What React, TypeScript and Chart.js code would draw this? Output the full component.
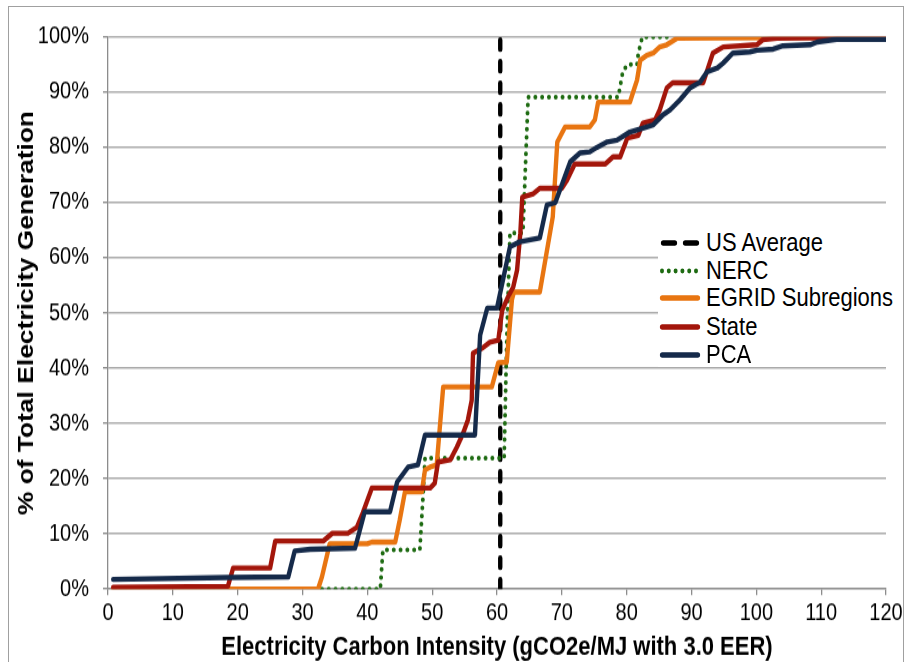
import React, { useEffect, useRef } from "react";
import { Chart, registerables } from "chart.js";

Chart.register(...registerables);

// ---------------- data ----------------
const xTickStep = 10;
const xMin = 0;
const xMax = 120;
const yTickStep = 10;

const seriesNames = ["US Average", "NERC", "EGRID Subregions", "State", "PCA"];

const usAvgX = [60.5, 60.5];
const usAvgY = [0, 100];

const nercX = [33, 42.0, 42.4, 48.1, 48.6, 48.9, 61.1, 61.5, 62.0, 64.0, 64.4, 64.8, 78.7, 79.4, 80.1, 81.6, 81.8, 82.4, 87.2];
const nercY = [0, 0, 7.1, 7.1, 17, 23.7, 23.7, 45, 64.5, 64.5, 77, 89.1, 89.1, 93.7, 95, 95, 97.1, 100, 100];

const egridX = [0.8, 32.4, 33.0, 34.2, 40.0, 40.7, 44.3, 45.0, 45.8, 48.4, 48.9, 49.7, 50.7, 51.7, 59.2, 60.2, 61.5, 62.3, 62.6, 66.6, 68.6, 69.3, 70.5, 74.3, 75.1, 75.6, 80.5, 81.6, 82.1, 83.1, 84.1, 85.1, 86.2, 87.8, 120];
const egridY = [0, 0, 2.2, 8.2, 8.2, 8.5, 8.5, 12.5, 17.6, 17.6, 21.6, 22.1, 22.5, 36.6, 36.6, 41, 41.1, 52.4, 53.8, 53.8, 67.4, 81, 83.7, 83.7, 85, 88.2, 88.2, 92.2, 95.8, 96.7, 97.1, 98.2, 98.6, 99.8, 100];

const stateX = [0.8, 18.5, 19.3, 25, 25.8, 33.2, 34.6, 37.0, 38.4, 39.3, 40.7, 49.7, 50.4, 50.9, 52.8, 53.8, 54.8, 55.5, 56.1, 56.3, 57.8, 58.9, 60.2, 60.8, 61.7, 62.5, 63.1, 63.6, 63.9, 65.6, 66.6, 70.0, 70.8, 72.0, 76.7, 77.9, 79.0, 80.1, 81.8, 82.5, 84.4, 85.1, 86.2, 87.1, 91.8, 93.3, 94.9, 100.1, 101.0, 103.2, 120];
const stateY = [0.3, 0.5, 3.8, 3.8, 8.7, 8.7, 10.1, 10.1, 11.2, 13.8, 18.3, 18.3, 19.2, 23, 23.4, 25.7, 28.3, 30.6, 34.2, 42.7, 43.7, 44.7, 45.1, 50.5, 52.9, 54.7, 57.8, 64.5, 71, 71.6, 72.6, 72.6, 74.1, 77, 77, 78.3, 78.3, 81.7, 82.2, 84.4, 85, 86.8, 90.8, 91.7, 91.7, 97.1, 98.2, 98.6, 99.5, 99.8, 100];

const pcaX = [0.8, 18.4, 27.8, 28.8, 31.2, 38.1, 39.6, 43.5, 44.6, 46.3, 47.8, 48.9, 56.6, 57.4, 58.5, 60.0, 62.0, 63.5, 66.6, 67.7, 69.0, 71.3, 72.8, 74.3, 75.4, 77.0, 78.5, 80.5, 82.5, 84.1, 85.6, 86.7, 88.2, 89.8, 91.3, 92.4, 94.0, 94.9, 96.4, 99.0, 100.1, 102.6, 104.1, 108.3, 109.4, 112.4, 120];
const pcaY = [1.75, 2.1, 2.2, 6.9, 7.2, 7.4, 14, 14, 19.4, 22.1, 22.5, 27.9, 27.9, 46, 50.9, 50.9, 62, 62.9, 63.6, 69.6, 70, 77.4, 79, 79.2, 80, 81, 81.3, 82.8, 83.5, 84.1, 85.9, 86.8, 88.6, 90.8, 91.8, 93.7, 94.4, 95.3, 97.1, 97.3, 97.6, 97.8, 98.4, 98.6, 99.1, 99.6, 99.6];

const xTitle = "Electricity Carbon Intensity (gCO2e/MJ with 3.0 EER)";
const yTitle = "% of Total Electricity Generation";

// ---------------- styles ----------------
const W = 906;
const H = 662;
const CH = 552; // canvas drawing height, stretched to H on screen
const S = H / CH; // vertical stretch of the reference
const FONT = "'Liberation Sans', Arial, Helvetica, sans-serif";

const colors = ["#000000", "#1e6b12", "#e87511", "#a3160b", "#152a4a"];
const LW = 4.4;
const dashUS = [8, 10];
const dotNERC = [0, 6.8];

const zip = (xs: number[], ys: number[]) => xs.map((x, i) => ({ x, y: ys[i] }));

function LegendSwatch({ idx }: { idx: number }) {
  const c = colors[idx];
  if (idx === 0) {
    return (
      <svg width={44} height={10}>
        <line x1={5} y1={5} x2={40} y2={5} stroke={c} strokeWidth={LW} strokeLinecap="round" strokeDasharray="12 10" />
      </svg>
    );
  }
  if (idx === 1) {
    return (
      <svg width={44} height={10}>
        <line x1={4} y1={5} x2={40} y2={5} stroke={c} strokeWidth={4} strokeLinecap="round" strokeDasharray="0 6.8" />
      </svg>
    );
  }
  return (
    <svg width={44} height={10}>
      <line x1={4} y1={5} x2={40} y2={5} stroke={c} strokeWidth={LW} strokeLinecap="round" />
    </svg>
  );
}

export default function App() {
  const ref = useRef<HTMLCanvasElement | null>(null);

  useEffect(() => {
    const canvas = ref.current;
    if (!canvas) return;
    const mk = (i: number, xs: number[], ys: number[], order: number, extra: any = {}) => ({
      label: seriesNames[i],
      data: zip(xs, ys),
      borderColor: colors[i],
      backgroundColor: colors[i],
      borderWidth: LW,
      pointRadius: 0,
      tension: 0,
      fill: false,
      borderJoinStyle: "round",
      borderCapStyle: "round",
      order,
      ...extra,
    });
    const chart = new Chart(canvas, {
      type: "line",
      data: {
        datasets: [
          mk(0, usAvgX, usAvgY, 4, { borderDash: dashUS }),
          mk(1, nercX, nercY, 3, { borderDash: dotNERC, borderWidth: 4 }),
          mk(2, egridX, egridY, 2),
          mk(3, stateX, stateY, 1),
          mk(4, pcaX, pcaY, 0),
        ] as any,
      },
      options: {
        animation: false,
        responsive: false,
        maintainAspectRatio: false,
        devicePixelRatio: 1,
        layout: { padding: { top: 37 / S, right: 20, left: 0, bottom: 0 } },
        plugins: {
          legend: { display: false },
          tooltip: { enabled: false },
        },
        scales: {
          x: {
            type: "linear",
            min: xMin,
            max: xMax,
            ticks: {
              stepSize: xTickStep,
              color: "#000",
              font: { family: FONT, size: 20 },
              padding: 3,
              maxRotation: 0,
            },
            grid: { drawOnChartArea: false, color: "#8c8c8c", tickLength: 5, lineWidth: 1.3 },
            border: { color: "#8c8c8c", width: 1.3 },
            title: {
              display: true,
              text: xTitle,
              color: "#000",
              font: { family: FONT, size: 22, weight: "bold", lineHeight: 1.1 },
              padding: { top: 0, bottom: 0 },
            },
            afterFit: (s: any) => {
              s.height = CH - 589 / S;
            },
          },
          y: {
            min: 0,
            max: 100,
            ticks: {
              stepSize: yTickStep,
              color: "#000",
              font: { family: FONT, size: 20 },
              padding: 14,
              callback: (v: any) => v + "%",
            },
            grid: { color: "#ababab", tickColor: "#8c8c8c", tickLength: 5, lineWidth: 1.4 },
            border: { color: "#8c8c8c", width: 1.3 },
            title: {
              display: true,
              text: yTitle,
              color: "#000",
              font: { family: FONT, size: 22, weight: "bold" },
              padding: { top: 14, bottom: 0 },
            },
            afterFit: (s: any) => {
              s.width = 108;
            },
          },
        },
      } as any,
    });
    return () => chart.destroy();
  }, []);

  const rowCenters = [243, 270.5, 298, 326.5, 354.5];

  return (
    <div style={{ position: "fixed", left: 0, top: 0, width: W, height: H, overflow: "hidden", background: "#fff" }}>
      <div
        style={{
          position: "absolute",
          left: 8,
          top: 6,
          width: 896,
          height: 700,
          border: "1px solid #a0a0a0",
          boxSizing: "border-box",
        }}
      />
      <canvas
        ref={ref}
        width={W}
        height={CH}
        style={{ position: "absolute", left: 0, top: 0, width: W + "px", height: H + "px" }}
      />
      <div
        style={{
          position: "absolute",
          left: 658,
          top: 226,
          width: 244,
          height: 141,
          background: "#fff",
          fontFamily: FONT,
          fontSize: 22,
          color: "#000",
        }}
      >
        {seriesNames.map((n, i) => (
          <div
            key={n}
            style={{
              position: "absolute",
              left: 0,
              top: rowCenters[i] - 226 - 14,
              height: 28,
              display: "flex",
              alignItems: "center",
              whiteSpace: "nowrap",
              transform: `scaleY(${S})`,
              transformOrigin: "center",
            }}
          >
            <LegendSwatch idx={i} />
            <span style={{ marginLeft: 4 }}>{n}</span>
          </div>
        ))}
      </div>
    </div>
  );
}
